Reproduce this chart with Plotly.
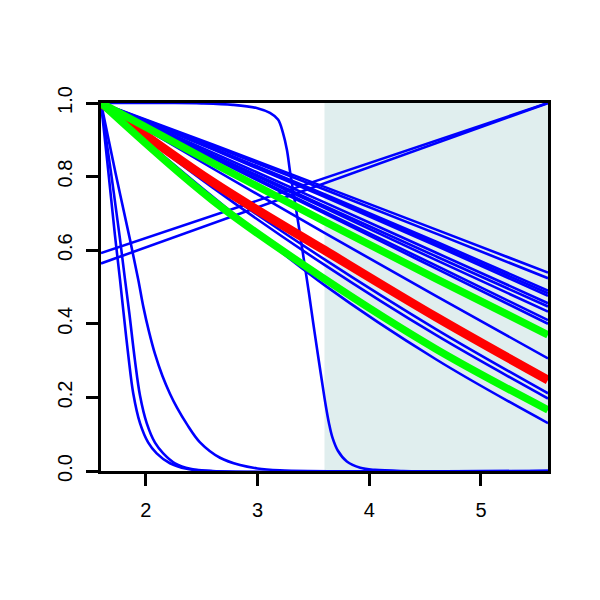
import plotly.graph_objects as go

# ---------------- data ----------------
FAN_X = [1.6, 2.6, 3.6, 4.6, 5.6]

# thin blue, nearly straight decreasing curves
fan_blue = [
    [1.0, 0.887, 0.772, 0.656, 0.539],
    [1.0, 0.883, 0.765, 0.645, 0.524],
    [1.0, 0.878, 0.752, 0.623, 0.490],
    [1.0, 0.876, 0.748, 0.617, 0.483],
    [1.0, 0.874, 0.745, 0.612, 0.476],
    [1.0, 0.865, 0.730, 0.593, 0.456],
    [1.0, 0.859, 0.720, 0.583, 0.447],
    [1.0, 0.857, 0.715, 0.573, 0.433],
    [1.0, 0.853, 0.705, 0.558, 0.410],
    [1.0, 0.850, 0.700, 0.550, 0.400],
    [1.0, 0.822, 0.647, 0.475, 0.306],
    [1.0, 0.780, 0.575, 0.385, 0.211],
    [1.0, 0.770, 0.560, 0.369, 0.197],
    [1.0, 0.745, 0.505, 0.303, 0.130],
]
red_y = [1.0, 0.785, 0.600, 0.418, 0.247]
green_upper_y = [1.0, 0.837, 0.678, 0.522, 0.370]
green_lower_y = [1.0, 0.735, 0.522, 0.331, 0.166]

# rising straight lines
rise_x = [1.6, 5.6]
rise_a = [0.592, 1.0]
rise_b = [0.564, 1.0]

# steep decays
steep_a_x = [1.6, 1.66, 1.725, 1.77, 1.80, 1.844, 1.889, 1.949, 2.023, 2.098, 2.217, 2.367, 2.55, 5.6]
steep_a_y = [1.0, 0.83, 0.64, 0.52, 0.435, 0.315, 0.21, 0.13, 0.077, 0.048, 0.021, 0.006, 0.0, 0.0]
steep_b_x = [1.6, 1.69, 1.77, 1.815, 1.853, 1.904, 1.949, 2.009, 2.083, 2.157, 2.262, 2.40, 2.60, 5.6]
steep_b_y = [1.0, 0.81, 0.63, 0.52, 0.43, 0.30, 0.205, 0.13, 0.077, 0.048, 0.021, 0.006, 0.0, 0.0]
steep_c_x = [1.6, 1.73, 1.86, 1.934, 1.979, 2.03, 2.083, 2.15, 2.217, 2.28, 2.367, 2.486,
             2.665, 2.844, 3.0, 3.2, 3.45, 5.6]
steep_c_y = [1.0, 0.81, 0.628, 0.519, 0.446, 0.378, 0.318, 0.258, 0.21, 0.172, 0.128, 0.078,
             0.036, 0.016, 0.007, 0.002, 0.0, 0.0]

# sigmoid-like drop
sig_x = [1.6, 2.2, 2.5, 2.78, 3.0, 3.112, 3.184, 3.229, 3.264, 3.291, 3.336, 3.38, 3.42,
         3.46, 3.50, 3.54, 3.575, 3.61, 3.64, 3.67, 3.72, 3.80, 3.92, 4.05, 4.3, 5.6]
sig_y = [1.0, 1.0, 0.999, 0.995, 0.986, 0.973, 0.955, 0.918, 0.872, 0.815, 0.73, 0.645, 0.565,
         0.485, 0.40, 0.318, 0.248, 0.18, 0.13, 0.092, 0.055, 0.026, 0.009, 0.003, 0.0, 0.0]

x_ticks = [2, 3, 4, 5]
y_ticks = [0.0, 0.2, 0.4, 0.6, 0.8, 1.0]
shade_from, shade_to = 3.6, 5.6

# ---------------- figure ----------------
BLUE = "#0000FF"
FONT = "Liberation Sans, Arial, Helvetica, sans-serif"
fig = go.Figure()


def add(x, y, color, width, smooth=1.0):
    fig.add_trace(go.Scatter(x=x, y=y, mode="lines",
                             line=dict(color=color, width=width, shape="spline", smoothing=smooth),
                             hoverinfo="skip", showlegend=False))


add(rise_x, rise_a, BLUE, 2.6)
add(rise_x, rise_b, BLUE, 2.6)
for ys in fan_blue:
    add(FAN_X, ys, BLUE, 2.6)
add(steep_a_x, steep_a_y, BLUE, 2.6, 1.0)
add(steep_b_x, steep_b_y, BLUE, 2.6, 1.0)
add(steep_c_x, steep_c_y, BLUE, 2.6, 1.0)
add(sig_x, sig_y, BLUE, 2.6, 1.0)
add(FAN_X, red_y, "#FF0000", 9)
add(FAN_X, green_upper_y, "#00FF00", 7.5)
add(FAN_X, green_lower_y, "#00FF00", 7.5)

fig.add_shape(type="rect", x0=shade_from, x1=shade_to, y0=0, y1=1, xref="x", yref="y",
              fillcolor="#E0EEEE", line=dict(width=0), layer="below")

axis_common = dict(showgrid=False, zeroline=False, showline=True, mirror=True,
                   linecolor="black", linewidth=2.5, ticks="outside", ticklen=12,
                   tickwidth=2.5, tickcolor="black",
                   tickfont=dict(family=FONT, size=20, color="black"))

fig.update_xaxes(range=[1.6, 5.6], tickvals=x_ticks, ticktext=[str(v) for v in x_ticks],
                 ticklabelstandoff=7, **axis_common)
fig.update_yaxes(range=[0, 1], tickvals=y_ticks, ticktext=[f"{v:.1f}" for v in y_ticks],
                 tickangle=-90, ticklabelstandoff=6, **axis_common)

fig.update_layout(width=600, height=600, margin=dict(l=93, r=60, t=95, b=137),
                  font=dict(family=FONT, size=20, color="black"),
                  paper_bgcolor="white", plot_bgcolor="white")

fig.write_html("out.html")
